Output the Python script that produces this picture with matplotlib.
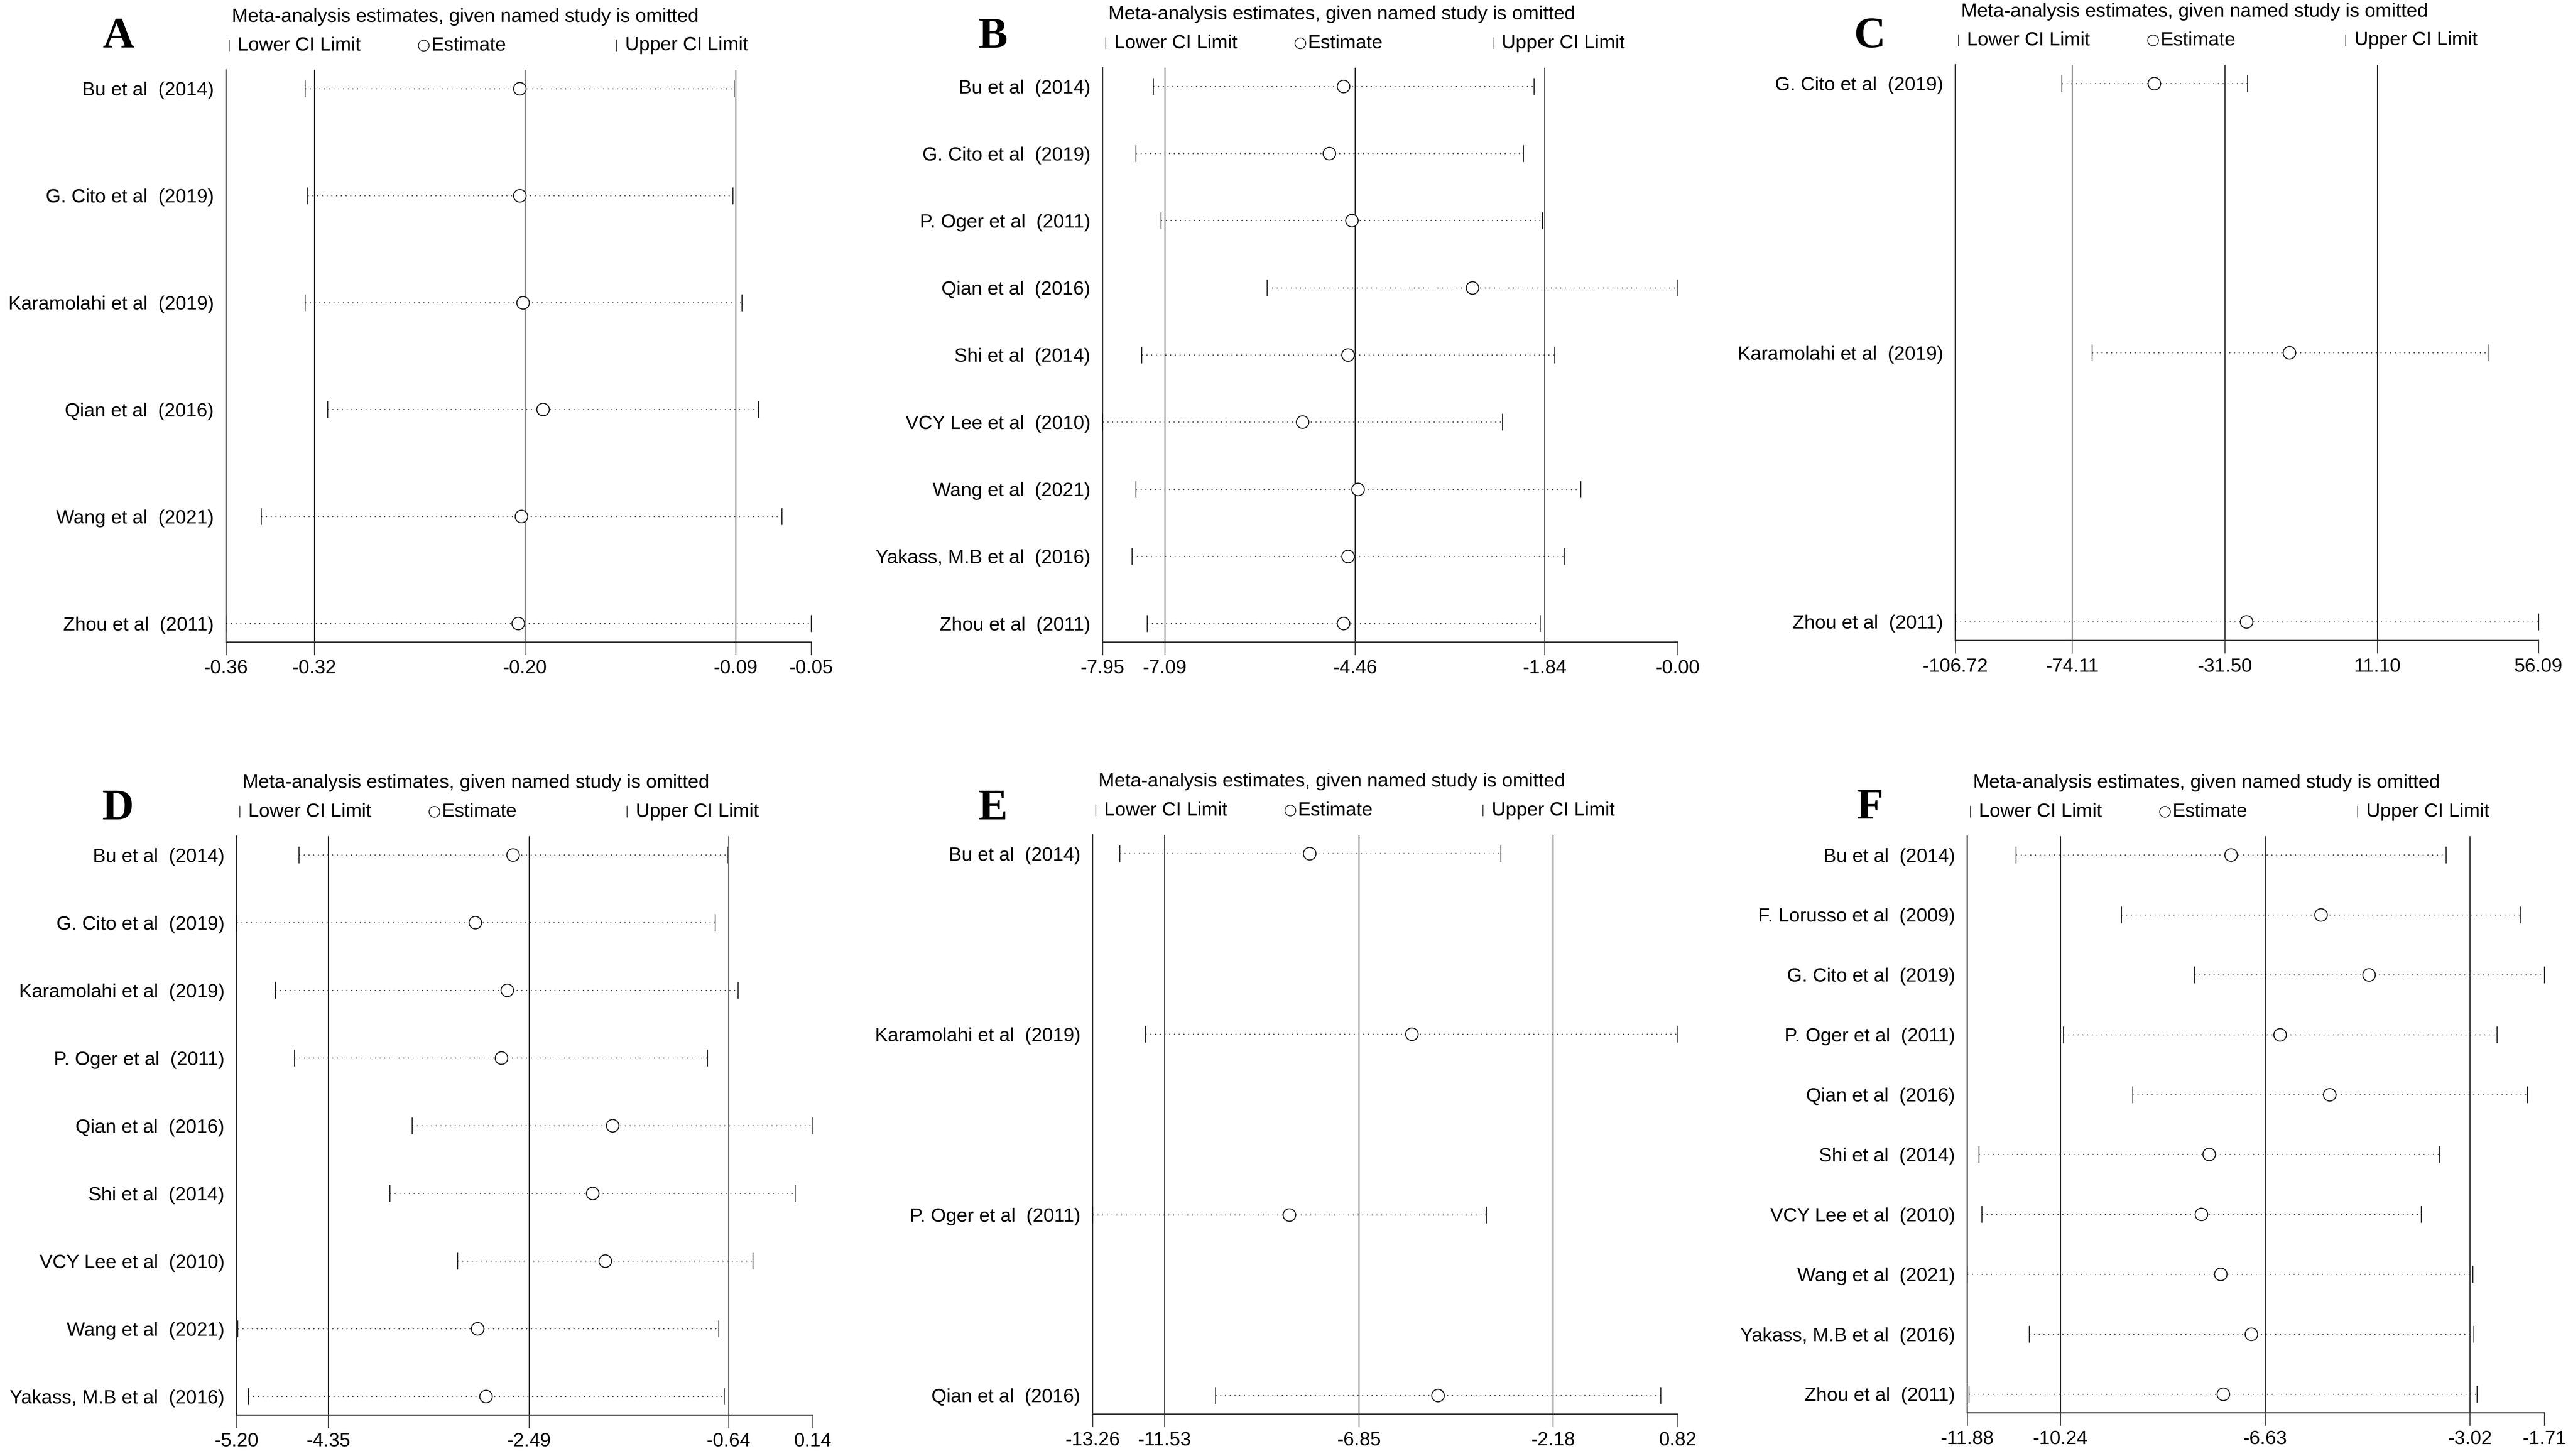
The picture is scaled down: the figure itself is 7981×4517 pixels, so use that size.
import matplotlib
matplotlib.use("Agg")
import matplotlib.pyplot as plt
from matplotlib import font_manager as fm
from matplotlib.lines import Line2D

# ---------------- data ----------------
a_studies = ["Bu et al  (2014)", "G. Cito et al  (2019)", "Karamolahi et al  (2019)",
             "Qian et al  (2016)", "Wang et al  (2021)", "Zhou et al  (2011)"]
a_lower = [-0.3217, -0.3202, -0.3217, -0.3095, -0.3452, -0.3640]
a_est = [-0.2064, -0.2064, -0.2046, -0.1939, -0.2055, -0.2073]
a_upper = [-0.0914, -0.0920, -0.0872, -0.0783, -0.0658, -0.0500]
a_ticks = [-0.364, -0.3166, -0.2037, -0.0905, -0.050]
a_ticklabels = ["-0.36", "-0.32", "-0.20", "-0.09", "-0.05"]

b_studies = ["Bu et al  (2014)", "G. Cito et al  (2019)", "P. Oger et al  (2011)",
             "Qian et al  (2016)", "Shi et al  (2014)", "VCY Lee et al  (2010)",
             "Wang et al  (2021)", "Yakass, M.B et al  (2016)", "Zhou et al  (2011)"]
b_lower = [-7.252, -7.490, -7.144, -5.679, -7.413, -7.950, -7.490, -7.543, -7.336]
b_est = [-4.619, -4.819, -4.504, -2.839, -4.558, -5.187, -4.420, -4.558, -4.619]
b_upper = [-1.987, -2.133, -1.872, 0.000, -1.703, -2.425, -1.343, -1.565, -1.903]
b_ticks = [-7.95, -7.09, -4.46, -1.84, 0.00]
b_ticklabels = ["-7.95", "-7.09", "-4.46", "-1.84", "-0.00"]

c_studies = ["G. Cito et al  (2019)", "Karamolahi et al  (2019)", "Zhou et al  (2011)"]
c_lower = [-77.02, -68.56, -106.72]
c_est = [-51.17, -13.47, -25.47]
c_upper = [-25.16, 41.93, 56.09]
c_ticks = [-106.72, -74.11, -31.50, 11.10, 56.09]
c_ticklabels = ["-106.72", "-74.11", "-31.50", "11.10", "56.09"]

d_studies = ["Bu et al  (2014)", "G. Cito et al  (2019)", "Karamolahi et al  (2019)",
             "P. Oger et al  (2011)", "Qian et al  (2016)", "Shi et al  (2014)",
             "VCY Lee et al  (2010)", "Wang et al  (2021)", "Yakass, M.B et al  (2016)"]
d_lower = [-4.624, -5.200, -4.840, -4.665, -3.574, -3.780, -3.152, -5.190, -5.092]
d_est = [-2.638, -2.988, -2.694, -2.746, -1.717, -1.902, -1.784, -2.967, -2.890]
d_upper = [-0.652, -0.765, -0.554, -0.837, 0.140, -0.024, -0.415, -0.734, -0.683]
d_ticks = [-5.20, -4.35, -2.49, -0.64, 0.14]
d_ticklabels = ["-5.20", "-4.35", "-2.49", "-0.64", "0.14"]

e_studies = ["Bu et al  (2014)", "Karamolahi et al  (2019)", "P. Oger et al  (2011)",
             "Qian et al  (2016)"]
e_lower = [-12.605, -11.991, -13.260, -10.308]
e_est = [-8.037, -5.579, -8.531, -4.951]
e_upper = [-3.441, 0.820, -3.789, 0.406]
e_ticks = [-13.26, -11.53, -6.85, -2.18, 0.82]
e_ticklabels = ["-13.26", "-11.53", "-6.85", "-2.18", "0.82"]

f_studies = ["Bu et al  (2014)", "F. Lorusso et al  (2009)", "G. Cito et al  (2019)",
             "P. Oger et al  (2011)", "Qian et al  (2016)", "Shi et al  (2014)",
             "VCY Lee et al  (2010)", "Wang et al  (2021)", "Yakass, M.B et al  (2016)",
             "Zhou et al  (2011)"]
f_lower = [-11.024, -9.167, -7.874, -10.188, -8.963, -11.676, -11.627, -11.880, -10.791, -11.851]
f_est = [-7.232, -5.648, -4.802, -6.367, -5.492, -7.621, -7.757, -7.417, -6.873, -7.369]
f_upper = [-3.441, -2.138, -1.710, -2.546, -2.011, -3.557, -3.878, -2.974, -2.954, -2.896]
f_ticks = [-11.88, -10.24, -6.63, -3.02, -1.71]
f_ticklabels = ["-11.88", "-10.24", "-6.63", "-3.02", "-1.71"]

panel_letters = ["A", "B", "C", "D", "E", "F"]
title_text = "Meta-analysis estimates, given named study is omitted"
legend_labels = ["Lower CI Limit", "Estimate", "Upper CI Limit"]

# ---------------- fonts ----------------
avail = {f.name for f in fm.fontManager.ttflist}
if "Liberation Sans Narrow" in avail:
    SANS = ["Liberation Sans Narrow", "DejaVu Sans"]
    FS = 52.5
else:
    SANS = ["Liberation Sans", "DejaVu Sans"]
    FS = 43
SERIF = ["Liberation Serif", "DejaVu Serif"]

W, H = 7982, 4517
DPI = 100
fig = plt.figure(figsize=(W / DPI, H / DPI), dpi=DPI)
fig.patch.set_facecolor("white")

# layout in pixels: left, top, right, bottom
boxes = [(701, 217, 2516, 1992), (3420, 210, 5204, 1992), (6065, 201, 7874, 1987),
         (734, 2594, 2521, 4390), (3389, 2590, 5204, 4387), (6102, 2594, 7892, 4383)]
letter_pos = [(368, 115), (3080, 115), (5800, 115), (366, 2509), (3080, 2509), (5800, 2507)]

panels = [
    (a_studies, a_lower, a_est, a_upper, a_ticks, a_ticklabels),
    (b_studies, b_lower, b_est, b_upper, b_ticks, b_ticklabels),
    (c_studies, c_lower, c_est, c_upper, c_ticks, c_ticklabels),
    (d_studies, d_lower, d_est, d_upper, d_ticks, d_ticklabels),
    (e_studies, e_lower, e_est, e_upper, e_ticks, e_ticklabels),
    (f_studies, f_lower, f_est, f_upper, f_ticks, f_ticklabels),
]

LINE = "#1a1a1a"
DOT = "#333333"


def fx(px):
    return px / W


def fy(py):
    return 1 - py / H


for i, (studies, lo, est, hi, ticks, tlabels) in enumerate(panels):
    L, T, R, B = boxes[i]
    ax = fig.add_axes([fx(L), fy(B), (R - L) / W, (B - T) / H])
    n = len(studies)
    pad_px = 58
    span_px = (B - T) - 2 * pad_px
    d = pad_px * (n - 1) / span_px if n > 1 else 0.5
    ys = [n - k for k in range(n)]
    ax.set_xlim(ticks[0], ticks[-1])
    ax.set_ylim(1 - d, n + d)

    for xr in ticks[1:4]:
        ax.axvline(xr, color=LINE, lw=2.1, zorder=1)

    ax.hlines(ys, lo, hi, colors=DOT, lw=2.2, linestyles=[(0, (1, 3.8))], zorder=2, clip_on=False)
    ax.plot(lo, ys, linestyle="none", marker="|", ms=37, mew=2.0, color=LINE, zorder=3, clip_on=False)
    ax.plot(hi, ys, linestyle="none", marker="|", ms=37, mew=2.0, color=LINE, zorder=3, clip_on=False)
    ax.plot(est, ys, linestyle="none", marker="o", ms=28, mew=2.3, mfc="white",
            mec=LINE, zorder=4, clip_on=False)

    for s in ["top", "right"]:
        ax.spines[s].set_visible(False)
    for s in ["left", "bottom"]:
        ax.spines[s].set_color("#333333")
        ax.spines[s].set_linewidth(2.8)

    ax.set_xticks(ticks)
    ax.set_xticklabels(tlabels, family=SANS, fontsize=FS)
    ax.tick_params(axis="x", direction="out", length=29, width=2.0, color="#333333", pad=10)
    ax.set_yticks(ys)
    ax.set_yticklabels(studies, family=SANS, fontsize=FS)
    ax.tick_params(axis="y", length=0, pad=27)

    # title and legend
    fig.text(fx(L + 18), fy(T - 165), title_text, family=SANS, fontsize=FS,
             ha="left", va="center")
    ly = fy(T - 76)
    fig.add_artist(Line2D([fx(L + 10)], [ly], marker="|", ms=26, mew=1.6, color=LINE,
                          transform=fig.transFigure, linestyle="none"))
    fig.text(fx(L + 36), ly, legend_labels[0], family=SANS, fontsize=FS, ha="left", va="center")
    fig.add_artist(Line2D([fx(L + 613)], [ly], marker="o", ms=24, mew=1.8, mfc="white",
                          mec=LINE, transform=fig.transFigure, linestyle="none"))
    fig.text(fx(L + 636), ly, legend_labels[1], family=SANS, fontsize=FS, ha="left", va="center")
    fig.add_artist(Line2D([fx(L + 1211)], [ly], marker="|", ms=26, mew=1.6, color=LINE,
                          transform=fig.transFigure, linestyle="none"))
    fig.text(fx(L + 1238), ly, legend_labels[2], family=SANS, fontsize=FS, ha="left", va="center")

    lx, lyy = letter_pos[i]
    fig.text(fx(lx), fy(lyy), panel_letters[i], family=SERIF, fontweight="bold",
             fontsize=98, ha="center", va="center")

fig.savefig("out.png", dpi=DPI, facecolor="white")
